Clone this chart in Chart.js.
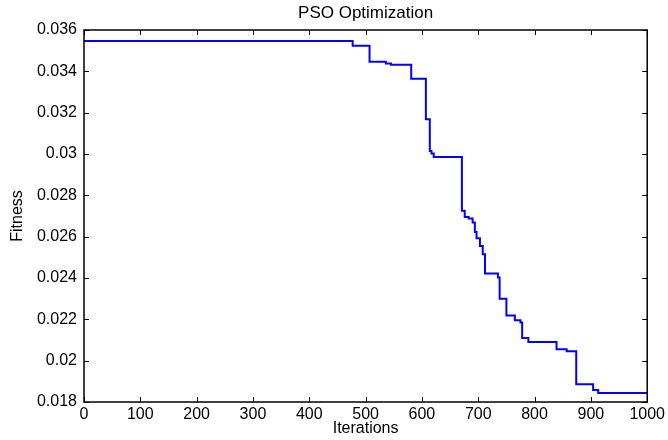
<!DOCTYPE html>
<html><head><meta charset="utf-8">
<script src="https://cdn.jsdelivr.net/npm/chart.js@4.4.0/dist/chart.umd.min.js"></script>
<style>html,body{margin:0;padding:0;background:#fff}#wrap{width:668px;height:440px}</style>
</head><body><div id="wrap"><canvas id="c" width="668" height="440"></canvas></div>
<script>
const iterations = [0, 477, 507, 536, 545, 581, 607, 614, 617, 621, 671, 676, 683, 690, 694, 697, 703, 708, 712, 735, 738, 750, 765, 775, 778, 789, 839, 857, 874, 904, 913, 1000];
const fitness = [0.03547, 0.03524, 0.03446, 0.03438, 0.03432, 0.03364, 0.03168, 0.03015, 0.03002, 0.02985, 0.02725, 0.02695, 0.02688, 0.02668, 0.02622, 0.02592, 0.02555, 0.02515, 0.02422, 0.02402, 0.02300, 0.02218, 0.02195, 0.02185, 0.02110, 0.02090, 0.02055, 0.02045, 0.01886, 0.01858, 0.01844, 0.01844];
const xTicks = [0, 100, 200, 300, 400, 500, 600, 700, 800, 900, 1000];
const yTicks = [0.018, 0.020, 0.022, 0.024, 0.026, 0.028, 0.030, 0.032, 0.034, 0.036];
const chartTitle = 'PSO Optimization';

const FONT = "'Liberation Sans', Arial, Helvetica, sans-serif";

const boxTicks = {
  id: 'boxTicks',
  afterDraw(chart) {
    const ctx = chart.ctx, a = chart.chartArea;
    const xs = chart.scales.x, ys = chart.scales.y;
    ctx.save();
    ctx.strokeStyle = '#000';
    ctx.lineWidth = 1;
    ctx.beginPath();
    xTicks.forEach(v => {
      const p = Math.round(xs.getPixelForValue(v)) + 0.5;
      ctx.moveTo(p, a.bottom); ctx.lineTo(p, a.bottom - 5);
      ctx.moveTo(p, a.top); ctx.lineTo(p, a.top + 5);
    });
    yTicks.forEach(v => {
      const p = Math.round(ys.getPixelForValue(v)) + 0.5;
      ctx.moveTo(a.left, p); ctx.lineTo(a.left + 5, p);
      ctx.moveTo(a.right, p); ctx.lineTo(a.right - 5, p);
    });
    ctx.stroke();
    ctx.lineWidth = 1.5;
    ctx.strokeRect(a.left, a.top, a.right - a.left, a.bottom - a.top);
    ctx.fillStyle = '#000';
    ctx.font = '17px ' + FONT;
    ctx.textAlign = 'center';
    ctx.textBaseline = 'middle';
    ctx.fillText(chartTitle, (a.left + a.right) / 2, 13);
    ctx.restore();
  }
};

new Chart(document.getElementById('c'), {
  type: 'line',
  data: {
    datasets: [{
      data: iterations.map((x, i) => ({ x: x, y: fitness[i] })),
      stepped: 'before',
      borderColor: '#0000FF',
      borderWidth: 2,
      pointRadius: 0,
      fill: false
    }]
  },
  options: {
    responsive: false,
    devicePixelRatio: 1,
    animation: false,
    layout: { padding: { top: 30, right: 19, bottom: 0, left: 0 } },
    plugins: {
      legend: { display: false },
      tooltip: { enabled: false },
      title: { display: false }
    },
    scales: {
      x: {
        type: 'linear', min: 0, max: 1000,
        afterBuildTicks: s => { s.ticks = xTicks.map(v => ({ value: v })); },
        afterFit: s => { s.height = 38; },
        grid: { display: false, drawTicks: false, tickLength: 0 },
        border: { display: false },
        ticks: { color: '#000', font: { family: FONT, size: 16 }, padding: 3, maxRotation: 0, autoSkip: false,
          callback: v => String(v) },
        title: { display: true, text: 'Iterations', color: '#000', font: { family: FONT, size: 16 }, padding: { top: 0, bottom: 2 } }
      },
      y: {
        type: 'linear', min: 0.018, max: 0.036,
        afterBuildTicks: s => { s.ticks = yTicks.map(v => ({ value: v })); },
        afterFit: s => { s.width = 84; },
        grid: { display: false, drawTicks: false, tickLength: 0 },
        border: { display: false },
        ticks: { color: '#000', font: { family: FONT, size: 16 }, padding: 7, autoSkip: false,
          callback: v => String(parseFloat(Number(v).toFixed(3))) },
        title: { display: true, text: 'Fitness', color: '#000', font: { family: FONT, size: 16 }, padding: { top: 8, bottom: 0 } }
      }
    }
  },
  plugins: [boxTicks]
});
</script>
</body></html>
